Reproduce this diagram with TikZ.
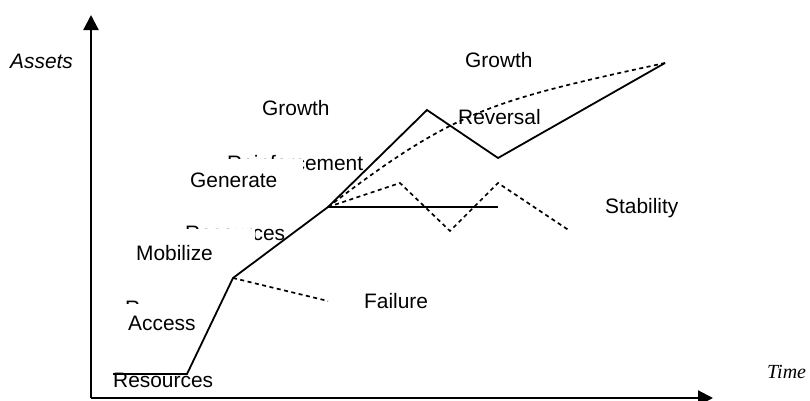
\documentclass[tikz,border=0pt]{standalone}
\usepackage{fontspec}
\setmainfont{Liberation Sans}
\newfontfamily\serifface{Liberation Serif}
\usetikzlibrary{arrows.meta}
\begin{document}
\begin{tikzpicture}[x=1pt,y=-1pt,
  lbl/.style={anchor=base west,inner sep=0pt,font=\fontsize{20.9}{24}\selectfont},
  mask/.style={fill=white},
  trend/.style={line width=1.8pt,line join=miter},
  alt/.style={line width=1.7pt,dash pattern=on 4pt off 3.5pt},
  axis/.style={line width=2.2pt,-{Triangle[length=15pt,width=15pt]}}]
\useasboundingbox (0,0) rectangle (810,400);
\clip (0,0) rectangle (810,400);

% labels lying underneath other text boxes
\node[lbl] (reinf) at (227,170) {Reinforcement};
\node[lbl] (resmid) at (185,240) {Resources};
\node[lbl] (rlow) at (125,315) {R};
\fill[mask] (160,159) rectangle (303,196);
\fill[mask] (94,229) rectangle (255,268);
\fill[mask] (110,304) rectangle (212,340);

% phase labels
\node[lbl] (growthA) at (262,115) {Growth};
\node[lbl] (growthB) at (465,67) {Growth};
\node[lbl] (reversal) at (458,124) {Reversal};
\node[lbl] (generate) at (190,187) {Generate};
\node[lbl] (mobilize) at (136,260) {Mobilize};
\node[lbl] (access) at (128,330) {Access};
\node[lbl] (resources) at (113,387) {Resources};
\node[lbl] (failure) at (364,308) {Failure};
\node[lbl] (stability) at (605,213) {Stability};
\node[lbl,font=\fontsize{20.9}{24}\selectfont\itshape] (assets) at (10,68) {Assets};
\node[lbl,font=\fontsize{20}{24}\serifface\itshape] (time) at (767,378) {Time};

% axes
\coordinate (o) at (91,398);
\coordinate (ytop) at (91,15);
\coordinate (xend) at (713,398);
\draw[axis] (o) -- (ytop);
\draw[axis] (o) -- (xend);

% trajectory points
\coordinate (p0) at (113,374);
\coordinate (p1) at (187,374);
\coordinate (p2) at (233,278);
\coordinate (p3) at (328,207);
\coordinate (p4) at (427,110);
\coordinate (p5) at (498,158);
\coordinate (p6) at (665,63);
\coordinate (f1) at (498,207);
\coordinate (q1) at (328,301);
\coordinate (s1) at (400,183);
\coordinate (s2) at (450,231);
\coordinate (s3) at (498,183);
\coordinate (s4) at (570,231);
\coordinate (gc1) at (455,110);
\coordinate (gc2) at (490,101);

% main trajectory and the flat branch
\draw[trend] (p0) -- (p1) -- (p2) -- (p3) -- (p4) -- (p5) -- (p6);
\draw[trend] (p3) -- (f1);

% alternative trajectories
\draw[alt] (p2) -- (q1);
\draw[alt] (p3) -- (s1) -- (s2) -- (s3) -- (s4);
\draw[alt] (p3) .. controls (gc1) and (gc2) .. (p6);
\end{tikzpicture}
\end{document}
